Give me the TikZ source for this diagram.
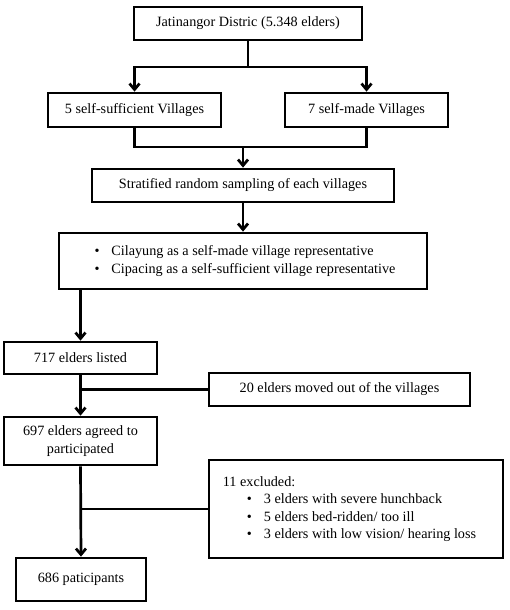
\documentclass[tikz,border=0pt]{standalone}
\usepackage{fontspec}
\setmainfont{Liberation Serif}
\usetikzlibrary{arrows.meta}
\begin{document}
\begin{tikzpicture}[x=1pt,y=-1pt,
  box/.style={draw,line width=2.7pt,rectangle,inner sep=0pt,align=center,font=\fontsize{14.2}{17.5}\selectfont},
  conn/.style={line width=2.7pt},
  arr/.style={line width=2.7pt,-{Straight Barb[length=6pt,width=10pt,line width=2.7pt]}}]
\useasboundingbox (0,0) rectangle (510,610);
\node[box,minimum width=228pt,minimum height=33pt] (dist) at (248,23.5) {Jatinangor Distric (5.348 elders)};
\node[box,minimum width=173pt,minimum height=34pt] (suff) at (134.5,110) {5 self-sufficient Villages};
\node[box,minimum width=163pt,minimum height=34pt] (made) at (366.5,110) {7 self-made Villages};
\node[box,minimum width=302pt,minimum height=33pt] (strat) at (243,185.5) {Stratified random sampling of each villages};
\node[box,minimum width=368pt,minimum height=56pt] (repr) at (243,261) {\begin{tabular}{@{\hspace{4pt}}l@{\hspace{12pt}}l@{}}•&Cilayung as a self-made village representative\\ •&Cipacing as a self-sufficient village representative\end{tabular}};
\node[box,minimum width=153pt,minimum height=32pt] (listed) at (80.5,358) {717 elders listed};
\node[box,minimum width=261pt,minimum height=33pt] (moved) at (339.5,389.5) {20 elders moved out of the villages};
\node[box,minimum width=153pt,minimum height=48pt] (agreed) at (80.5,441) {697 elders agreed to\\participated};
\node[box,minimum width=294pt,minimum height=98pt] (excl) at (356,509) {\begin{tabular}{@{}l@{\hspace{24pt}}l@{\hspace{12pt}}l@{\hspace{13pt}}}\multicolumn{3}{@{}l@{}}{11 excluded:}\\ &•&3 elders with severe hunchback\\ &•&5 elders bed-ridden/ too ill\\ &•&3 elders with low vision/ hearing loss\end{tabular}};
\node[box,minimum width=130pt,minimum height=43pt] (part) at (81,579.5) {686 paticipants};
\coordinate (j1) at (248,67);
\coordinate (j2) at (243,147);
\draw[conn] (dist.south) -- (j1);
\draw[arr] (j1) -| (suff.north);
\draw[arr] (j1) -| (made.north);
\draw[conn] (suff.south) |- (j2);
\draw[conn] (made.south) |- (j2);
\draw[arr] (j2) -- (strat.north);
\draw[arr] (strat.south) -- (repr.north);
\draw[arr] (listed.north |- repr.south) -- (listed.north);
\draw[arr] (listed.south) -- (agreed.north);
\draw[conn] (moved.west) -- (moved.west -| listed.south);
\draw[arr] (agreed.south) -- (part.north);
\draw[conn] (excl.west) -- (excl.west -| agreed.south);
\end{tikzpicture}
\end{document}
